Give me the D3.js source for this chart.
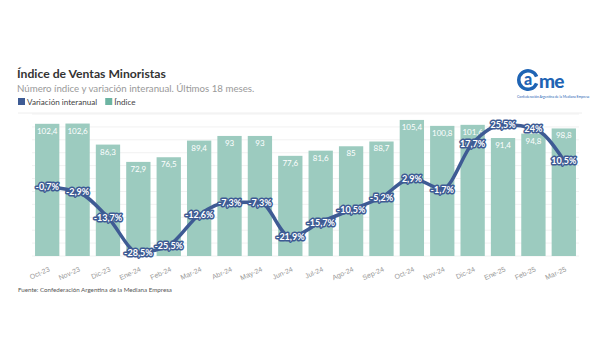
<!DOCTYPE html>
<html>
<head>
<meta charset="utf-8">
<script src="https://cdn.jsdelivr.net/npm/d3@7"></script>
<style>
  body { margin: 0; background: #fff; }
  svg { font-family: Lato, "Open Sans", sans-serif; }
</style>
</head>
<body>
<div id="chart"></div>
<script>
const meses = ['Oct-23', 'Nov-23', 'Dic-23', 'Ene-24', 'Feb-24', 'Mar-24', 'Abr-24', 'May-24', 'Jun-24',
    'Jul-24', 'Ago-24', 'Sep-24', 'Oct-24', 'Nov-24', 'Dic-24', 'Ene-25', 'Feb-25', 'Mar-25'];
const indice = [102.4, 102.6, 86.3, 72.9, 76.5, 89.4, 93, 93, 77.6, 81.6, 85, 88.7, 105.4, 100.8, 101.6, 91.4, 94.8, 98.8];
const variacion = [-0.7, -2.9, -13.7, -28.5, -25.5, -12.6, -7.3, -7.3, -21.9, -15.7, -10.5, -5.2, 2.9, -1.7, 17.7, 25.5, 24, 10.5];

const W = 600, H = 360;
const blue = '#3e5b94', teal = '#9ccbbf', tealLegend = '#6db4a2', logoBlue = '#1f64b4';
const fmt = (v) => String(v).replace('.', ',');

const svg = d3.select('#chart').append('svg').attr('width', W).attr('height', H);

// header
svg.append('text').attr('x', 17).attr('y', 78).attr('font-size', 12.2).attr('font-weight', 700)
    .attr('fill', '#333').text('Índice de Ventas Minoristas');
svg.append('text').attr('x', 17).attr('y', 92).attr('font-size', 9.7).attr('fill', '#999')
    .text('Número índice y variación interanual. Últimos 18 meses.');

const legend = [['Variación interanual', blue], ['Índice', tealLegend]];
let lx = 18;
legend.forEach(([name, c]) => {
    svg.append('rect').attr('x', lx).attr('y', 98).attr('width', 7).attr('height', 7).attr('fill', c);
    const t = svg.append('text').attr('x', lx + 9).attr('y', 105).attr('font-size', 8.1).attr('fill', '#444').text(name);
    lx += 9 + t.node().getComputedTextLength() + 8;
});

// logo
const logo = svg.append('g').attr('transform', 'translate(517,69)');
const arc = d3.arc().innerRadius(7.5).outerRadius(11)
    .startAngle(Math.PI * 0.62).endAngle(Math.PI * 2.38);
logo.append('path').attr('transform', 'translate(11,11)').attr('d', arc).attr('fill', logoBlue);
logo.append('text').attr('x', 11).attr('y', 16).attr('text-anchor', 'middle')
    .attr('font-size', 16).attr('font-weight', 900).attr('fill', logoBlue).text('a');
logo.append('text').attr('x', 22).attr('y', 18.5).attr('font-size', 19).attr('font-weight', 900)
    .attr('letter-spacing', -0.8).attr('fill', logoBlue).text('me');
logo.append('text').attr('x', 0).attr('y', 29).attr('font-size', 3.4).attr('fill', logoBlue)
    .text('Confederación Argentina de la Mediana Empresa');

svg.append('line').attr('x1', 18).attr('x2', 582).attr('y1', 113).attr('y2', 113)
    .attr('stroke', '#eeeeee').attr('stroke-width', 1);

// scales
const x = d3.scaleBand().domain(meses).range([32, 579]).paddingInner(0.2).paddingOuter(0.1);
const yBar = d3.scaleLinear().domain([0, 110]).range([256, 114]);
const yVar = d3.scaleLinear().domain([-30, 30]).range([256, 114]);

// grid
svg.append('g').selectAll('line').data(yBar.ticks(8)).join('line')
    .attr('x1', 32).attr('x2', 579)
    .attr('y1', (d) => yBar(d)).attr('y2', (d) => yBar(d))
    .attr('stroke', '#f1f1f1');

// bars
svg.append('g').selectAll('rect').data(indice).join('rect')
    .attr('x', (d, i) => x(meses[i]))
    .attr('y', (d) => yBar(d))
    .attr('width', x.bandwidth())
    .attr('height', (d) => yBar(0) - yBar(d))
    .attr('fill', teal);

svg.append('g').selectAll('text').data(indice).join('text')
    .attr('x', (d, i) => x(meses[i]) + x.bandwidth() / 2)
    .attr('y', (d) => yBar(d) + 10)
    .attr('text-anchor', 'middle')
    .attr('font-size', 8)
    .attr('fill', '#fff')
    .text((d) => fmt(d));

// x axis
const xAxis = svg.append('g').attr('transform', 'translate(0,256)')
    .call(d3.axisBottom(x).tickSize(0));
xAxis.select('.domain').remove();
xAxis.selectAll('text')
    .attr('font-size', 7).attr('fill', '#999')
    .attr('text-anchor', 'end')
    .attr('y', 0).attr('dy', 0)
    .attr('transform', 'translate(3,15) rotate(-24)');

// line
const cx = (i) => x(meses[i]) + x.bandwidth() / 2;
const line = d3.line().x((d, i) => cx(i)).y((d) => yVar(d)).curve(d3.curveMonotoneX);
svg.append('path').datum(variacion)
    .attr('d', line)
    .attr('fill', 'none')
    .attr('stroke', blue)
    .attr('stroke-width', 3.5)
    .attr('stroke-linejoin', 'round');

svg.append('g').selectAll('text').data(variacion).join('text')
    .attr('x', (d, i) => cx(i))
    .attr('y', (d) => yVar(d) + 3.5)
    .attr('text-anchor', 'middle')
    .attr('font-size', 9)
    .attr('font-weight', 700)
    .attr('fill', '#fff')
    .attr('stroke', blue)
    .attr('stroke-width', 3)
    .attr('stroke-linejoin', 'round')
    .attr('paint-order', 'stroke')
    .text((d) => fmt(d) + '%');

// source
svg.append('text').attr('x', 18).attr('y', 292).attr('font-size', 6.2).attr('fill', '#555')
    .text('Fuente: Confederación Argentina de la Mediana Empresa');
</script>
</body>
</html>
